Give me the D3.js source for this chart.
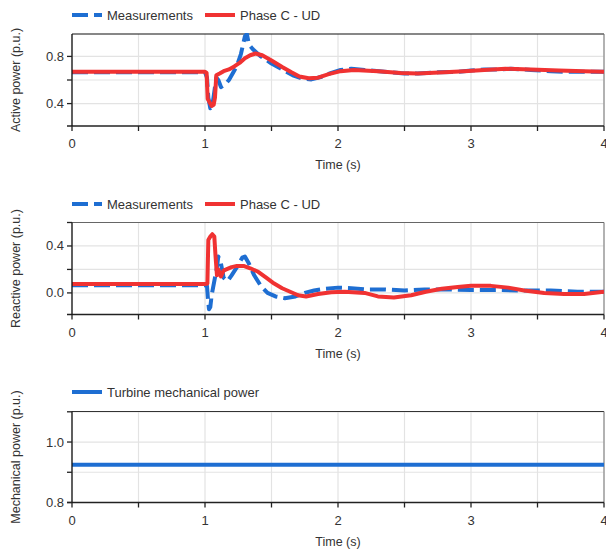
<!DOCTYPE html>
<html>
<head>
<meta charset="utf-8">
<script src="https://cdn.jsdelivr.net/npm/d3@7"></script>
<style>
  body { margin: 0; background: #fff; }
  text { font-family: "Liberation Sans", Arial, sans-serif; fill: #333; }
</style>
</head>
<body>
<div id="chart"></div>
<script>
// time ticks (s)
const xMajorTicks = [0, 1, 2, 3, 4];
const xMinorTicks = [0, 0.5, 1, 1.5, 2, 2.5, 3, 3.5, 4];

// Active power (p.u.)
const activeMeasT = [0, 1.0, 1.015, 1.025, 1.04, 1.055, 1.07, 1.085, 1.1, 1.12, 1.15, 1.18, 1.21, 1.24, 1.27, 1.3, 1.315, 1.33, 1.36, 1.42, 1.5, 1.58, 1.66, 1.74, 1.8, 1.87, 1.95, 2.02, 2.1, 2.2, 2.35, 2.5, 2.6, 2.75, 2.9, 3.0, 3.1, 3.2, 3.3, 3.45, 3.6, 3.7, 3.85, 4.0];
const activeMeasV = [0.665, 0.665, 0.62, 0.45, 0.36, 0.38, 0.5, 0.62, 0.6, 0.54, 0.56, 0.6, 0.66, 0.72, 0.82, 0.97, 0.99, 0.9, 0.86, 0.8, 0.74, 0.69, 0.64, 0.61, 0.605, 0.625, 0.66, 0.685, 0.695, 0.685, 0.67, 0.655, 0.655, 0.665, 0.67, 0.68, 0.69, 0.69, 0.695, 0.685, 0.675, 0.67, 0.67, 0.67];
const activeSimT = [0, 1.0, 1.012, 1.02, 1.035, 1.05, 1.065, 1.075, 1.085, 1.11, 1.14, 1.18, 1.22, 1.26, 1.3, 1.34, 1.38, 1.43, 1.5, 1.58, 1.65, 1.71, 1.78, 1.85, 1.93, 2.02, 2.12, 2.3, 2.47, 2.6, 2.8, 2.95, 3.1, 3.26, 3.45, 3.66, 3.85, 4.0];
const activeSimV = [0.67, 0.67, 0.66, 0.44, 0.41, 0.38, 0.39, 0.45, 0.64, 0.655, 0.675, 0.69, 0.715, 0.745, 0.785, 0.81, 0.825, 0.81, 0.765, 0.71, 0.665, 0.63, 0.615, 0.62, 0.65, 0.675, 0.685, 0.675, 0.66, 0.655, 0.665, 0.675, 0.685, 0.695, 0.69, 0.68, 0.675, 0.67];

// Reactive power (p.u.)
const reactMeasT = [0, 1.0, 1.015, 1.022, 1.03, 1.04, 1.05, 1.07, 1.09, 1.1, 1.12, 1.14, 1.17, 1.2, 1.24, 1.28, 1.3, 1.33, 1.37, 1.42, 1.47, 1.53, 1.6, 1.68, 1.75, 1.82, 1.9, 2.0, 2.1, 2.2, 2.35, 2.5, 2.65, 2.8, 3.0, 3.2, 3.4, 3.6, 3.8, 4.0];
const reactMeasV = [0.065, 0.065, 0.06, -0.05, -0.14, -0.12, -0.02, 0.1, 0.22, 0.31, 0.25, 0.13, 0.1, 0.15, 0.22, 0.3, 0.31, 0.25, 0.15, 0.06, 0.0, -0.03, -0.045, -0.03, 0.0, 0.02, 0.035, 0.045, 0.04, 0.03, 0.03, 0.02, 0.03, 0.03, 0.025, 0.025, 0.02, 0.02, 0.01, 0.01];
const reactSimT = [0, 1.0, 1.018, 1.025, 1.04, 1.055, 1.07, 1.08, 1.09, 1.1, 1.12, 1.14, 1.16, 1.2, 1.24, 1.29, 1.34, 1.4, 1.46, 1.52, 1.58, 1.64, 1.7, 1.76, 1.85, 1.95, 2.05, 2.2, 2.3, 2.42, 2.55, 2.66, 2.78, 2.9, 3.0, 3.15, 3.28, 3.4, 3.55, 3.7, 3.85, 4.0];
const reactSimV = [0.075, 0.075, 0.08, 0.45, 0.48, 0.5, 0.48, 0.3, 0.15, 0.2, 0.14, 0.19, 0.2, 0.22, 0.23, 0.23, 0.21, 0.18, 0.13, 0.08, 0.04, 0.01, -0.02, -0.03, -0.01, 0.005, 0.01, 0.0, -0.03, -0.04, -0.02, 0.01, 0.035, 0.05, 0.06, 0.06, 0.045, 0.02, 0.0, -0.01, -0.01, 0.01];

// Mechanical power (p.u.)
const mechT = [0, 4];
const mechV = [0.925, 0.925];

const blue = "#1e6ed2", red = "#f03232";
const zip = (t, v) => t.map((d, i) => ({ t: d, v: v[i] }));

const panels = [
  {
    top: 34, bottom: 126, domain: [0.21, 0.99],
    yTitle: "Active power (p.u.)",
    yLabels: [0.4, 0.8], yTicks: [0.2, 0.4, 0.6, 0.8, 1.0],
    legendY: 15, topStroke: "#111",
    series: [
      { name: "Measurements", data: zip(activeMeasT, activeMeasV), color: blue, dash: "16,6" },
      { name: "Phase C - UD", data: zip(activeSimT, activeSimV), color: red, dash: null },
    ],
  },
  {
    top: 222.5, bottom: 314.5, domain: [-0.184, 0.6],
    yTitle: "Reactive power (p.u.)",
    yLabels: [0.0, 0.4], yTicks: [-0.2, 0.0, 0.2, 0.4, 0.6],
    legendY: 204, topStroke: "#666",
    series: [
      { name: "Measurements", data: zip(reactMeasT, reactMeasV), color: blue, dash: "16,6" },
      { name: "Phase C - UD", data: zip(reactSimT, reactSimV), color: red, dash: null },
    ],
  },
  {
    top: 411.5, bottom: 502.5, domain: [0.8, 1.101],
    yTitle: "Mechanical power (p.u.)",
    yLabels: [0.8, 1.0], yTicks: [0.8, 0.9, 1.0, 1.1],
    legendY: 392, topStroke: "#333",
    series: [
      { name: "Turbine mechanical power", data: zip(mechT, mechV), color: blue, dash: null },
    ],
  },
];

const W = 606, H = 549;
const left = 72, right = 604;

const svg = d3.select("#chart").append("svg")
  .attr("width", W).attr("height", H);

const x = d3.scaleLinear().domain([0, 4]).range([left, right]);

panels.forEach((p, pi) => {
  const y = d3.scaleLinear().domain(p.domain).range([p.bottom, p.top]);
  const g = svg.append("g");
  const inY = (v) => v >= p.domain[0] - 1e-9 && v <= p.domain[1] + 1e-9;

  // grid
  g.selectAll(".gx").data(xMinorTicks).join("line")
    .attr("x1", (d) => x(d)).attr("x2", (d) => x(d))
    .attr("y1", p.top).attr("y2", p.bottom)
    .attr("stroke", "#e3e3e3").attr("stroke-width", 1.2);
  g.selectAll(".gy").data(p.yTicks.filter(inY)).join("line")
    .attr("x1", left).attr("x2", right)
    .attr("y1", (d) => y(d)).attr("y2", (d) => y(d))
    .attr("stroke", "#e3e3e3").attr("stroke-width", 1.2);

  // frame (top and right)
  g.append("line").attr("x1", left).attr("x2", right).attr("y1", p.top).attr("y2", p.top)
    .attr("stroke", p.topStroke).attr("stroke-width", 1.2);
  g.append("line").attr("x1", right).attr("x2", right).attr("y1", p.top).attr("y2", p.bottom)
    .attr("stroke", "#777").attr("stroke-width", 1);

  // series
  const clipId = "clip" + pi;
  svg.append("clipPath").attr("id", clipId).append("rect")
    .attr("x", left).attr("y", p.top - 1).attr("width", right - left).attr("height", p.bottom - p.top + 1);
  const line = d3.line().x((d) => x(d.t)).y((d) => y(d.v));
  const lg = g.append("g").attr("clip-path", `url(#${clipId})`);
  p.series.forEach((s) => {
    lg.append("path").datum(s.data)
      .attr("d", line)
      .attr("fill", "none")
      .attr("stroke", s.color)
      .attr("stroke-width", 4)
      .attr("stroke-linejoin", "round")
      .attr("stroke-dasharray", s.dash);
  });

  // x axis
  const xAxis = g.append("g").attr("transform", `translate(0,${p.bottom})`);
  xAxis.append("line").attr("x1", left - 5).attr("x2", right).attr("y1", 0).attr("y2", 0)
    .attr("stroke", "#222").attr("stroke-width", 1.3);
  xAxis.selectAll(".tx").data(xMinorTicks).join("line")
    .attr("x1", (d) => x(d)).attr("x2", (d) => x(d)).attr("y1", 0).attr("y2", 5)
    .attr("stroke", "#222").attr("stroke-width", 1.3);
  xAxis.selectAll(".lx").data(xMajorTicks).join("text")
    .attr("x", (d) => x(d)).attr("y", 22)
    .attr("text-anchor", "middle").style("font-size", "13px")
    .text((d) => d);
  g.append("text")
    .attr("x", (left + right) / 2).attr("y", p.bottom + 43)
    .attr("text-anchor", "middle").style("font-size", "12.5px")
    .text("Time (s)");

  // y axis
  g.append("line").attr("x1", left).attr("x2", left).attr("y1", p.top).attr("y2", p.bottom)
    .attr("stroke", "#111").attr("stroke-width", 1.3);
  g.selectAll(".ty").data(p.yTicks.filter(inY)).join("line")
    .attr("x1", left - 5).attr("x2", left).attr("y1", (d) => y(d)).attr("y2", (d) => y(d))
    .attr("stroke", "#222").attr("stroke-width", 1.3);
  g.selectAll(".ly").data(p.yLabels).join("text")
    .attr("x", left - 8).attr("y", (d) => y(d) + 4.5)
    .attr("text-anchor", "end").style("font-size", "13px")
    .text((d) => d3.format(".1f")(d));
  g.append("text")
    .attr("transform", `translate(20,${(p.top + p.bottom) / 2}) rotate(-90)`)
    .attr("text-anchor", "middle").style("font-size", "12.5px")
    .text(p.yTitle);

  // legend
  let lx = left;
  p.series.forEach((s) => {
    g.append("line").attr("x1", lx).attr("x2", lx + 30)
      .attr("y1", p.legendY).attr("y2", p.legendY)
      .attr("stroke", s.color).attr("stroke-width", 4)
      .attr("stroke-dasharray", s.dash);
    const t = g.append("text").attr("x", lx + 35).attr("y", p.legendY + 4.5)
      .style("font-size", "13px").text(s.name);
    lx += 35 + t.node().getComputedTextLength() + 12;
  });
});
</script>
</body>
</html>
